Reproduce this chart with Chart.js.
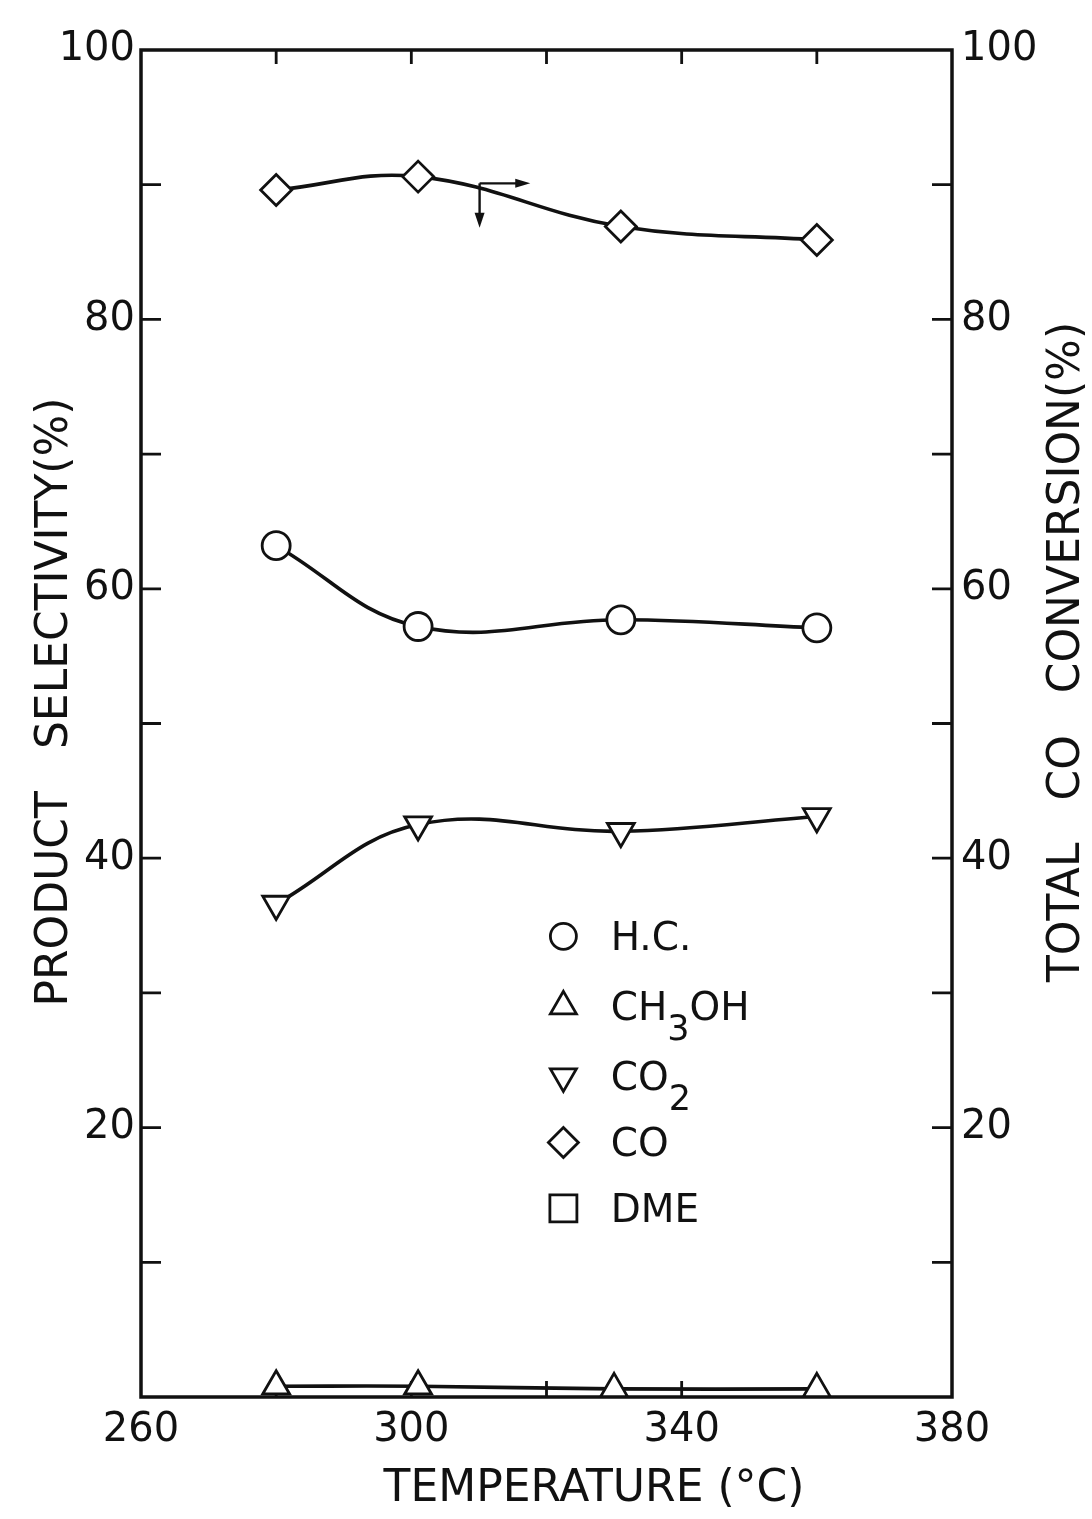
<!DOCTYPE html>
<html>
<head>
<meta charset="utf-8">
<script src="https://cdn.jsdelivr.net/npm/chart.js@4.4.0/dist/chart.umd.min.js"></script>
<style>
html,body{margin:0;padding:0;background:#fff;}
#wrap{width:1092px;height:1519px;position:relative;}
canvas{display:block;}
</style>
</head>
<body>
<div id="wrap"><canvas id="c" width="1092" height="1519"></canvas></div>
<script>
// ---- data ----
const temperatures      = [280, 301, 331, 360];   // °C
const ch3ohTemperatures = [280, 301, 330, 360];   // °C
const hcSelectivity     = [63.2, 57.2, 57.7, 57.1];
const ch3ohSelectivity  = [0.8, 0.8, 0.6, 0.6];
const co2Selectivity    = [36.6, 42.5, 42.0, 43.1];
const coConversion      = [89.6, 90.6, 86.9, 85.9];
const xTickLabels = [260, 300, 340, 380];
const yTickLabels = [20, 40, 60, 80, 100];
const legendItems = [
  {style:'circle',   main:'H.C.', sub:'',  tail:''},
  {style:'triangle', main:'CH',   sub:'3', tail:'OH'},
  {style:'triDown',  main:'CO',   sub:'2', tail:''},
  {style:'diamond',  main:'CO',   sub:'',  tail:''},
  {style:'square',   main:'DME',  sub:'',  tail:''}
];
const xTitle = 'TEMPERATURE (°C)';
const yLeftTitle = 'PRODUCT   SELECTIVITY(%)';
const yRightTitle = 'TOTAL   CO   CONVERSION(%)';

const INK = '#111111';
const FONT = '"DejaVu Sans", "Liberation Sans", Arial, sans-serif';

function pts(xs, ys){ return xs.map((x,i)=>({x:x, y:ys[i]})); }

function baseDs(label, data, style, rot, axis){
  return {
    label: label, data: data, yAxisID: axis || 'y',
    borderColor: INK, borderWidth: 3.6, tension: 0.4,
    pointStyle: style, pointRotation: rot || 0,
    pointRadius: style==='circle' ? 14 : 15.5,
    pointBorderWidth: 2.8, pointBorderColor: INK, pointBackgroundColor: '#fff',
    clip: false, fill: false
  };
}

function markerPath(ctx, style, x, y, r){
  ctx.beginPath();
  if (style==='circle'){ ctx.arc(x,y,r,0,Math.PI*2); }
  else if (style==='triangle'){
    ctx.moveTo(x, y-r); ctx.lineTo(x+r*0.866, y+r*0.5); ctx.lineTo(x-r*0.866, y+r*0.5); ctx.closePath();
  } else if (style==='triDown'){
    ctx.moveTo(x, y+r); ctx.lineTo(x+r*0.866, y-r*0.5); ctx.lineTo(x-r*0.866, y-r*0.5); ctx.closePath();
  } else if (style==='diamond'){
    ctx.moveTo(x, y-r); ctx.lineTo(x+r, y); ctx.lineTo(x, y+r); ctx.lineTo(x-r, y); ctx.closePath();
  } else {
    const h = r*0.75; ctx.rect(x-h, y-h, 2*h, 2*h);
  }
}

const framePlugin = {
  id: 'frame',
  beforeDatasetsDraw(chart){
    const {ctx, chartArea:a, scales} = chart;
    const x = scales.x, y = scales.y;
    ctx.save();
    ctx.strokeStyle = INK;
    ctx.lineWidth = 3.5;
    ctx.lineJoin = 'miter';
    ctx.strokeRect(a.left, a.top, a.right-a.left, a.bottom-a.top);
    ctx.lineWidth = 2.8;
    ctx.beginPath();
    x.ticks.forEach(t=>{
      if (t.value===x.min || t.value===x.max) return;
      const px = x.getPixelForValue(t.value);
      ctx.moveTo(px, a.bottom); ctx.lineTo(px, a.bottom-16);
      ctx.moveTo(px, a.top);    ctx.lineTo(px, a.top+14);
    });
    y.ticks.forEach(t=>{
      if (t.value===y.min || t.value===y.max) return;
      const py = y.getPixelForValue(t.value);
      ctx.moveTo(a.left, py);  ctx.lineTo(a.left+20, py);
      ctx.moveTo(a.right, py); ctx.lineTo(a.right-20, py);
    });
    ctx.stroke();
    ctx.restore();
  },
  afterDatasetsDraw(chart){
    const {ctx, scales} = chart;
    const x = scales.x, y = scales.y;
    ctx.save();
    ctx.strokeStyle = INK; ctx.fillStyle = INK; ctx.lineWidth = 2.4;
    // arrows from the CO curve
    const ox = x.getPixelForValue(310.1), oy = y.getPixelForValue(90.1);
    const dy = y.getPixelForValue(86.8);
    const rx = x.getPixelForValue(317.6);
    ctx.beginPath(); ctx.moveTo(ox, oy); ctx.lineTo(ox, dy-12); ctx.stroke();
    ctx.beginPath(); ctx.moveTo(ox, dy); ctx.lineTo(ox-5, dy-15); ctx.lineTo(ox+5, dy-15); ctx.closePath(); ctx.fill();
    ctx.beginPath(); ctx.moveTo(ox, oy); ctx.lineTo(rx-12, oy); ctx.stroke();
    ctx.beginPath(); ctx.moveTo(rx, oy); ctx.lineTo(rx-15, oy-4.5); ctx.lineTo(rx-15, oy+4.5); ctx.closePath(); ctx.fill();

    // legend
    const rows = [34.2, 29.0, 23.8, 18.9, 14.0];
    const mx = x.getPixelForValue(322.5);
    const tx = x.getPixelForValue(329.5);
    ctx.lineWidth = 2.8;
    legendItems.forEach((it, i)=>{
      const py = y.getPixelForValue(rows[i]);
      markerPath(ctx, it.style, mx, py, it.style==='circle' ? 13 : (it.style==='square'?18:15));
      ctx.fillStyle = '#fff'; ctx.fill(); ctx.stroke();
      ctx.fillStyle = INK;
      ctx.textBaseline = 'alphabetic'; ctx.textAlign = 'left';
      ctx.font = '39px ' + FONT;
      const base = py + 14;
      ctx.fillText(it.main, tx, base);
      let w = ctx.measureText(it.main).width;
      if (it.sub){
        ctx.font = '35px ' + FONT;
        ctx.fillText(it.sub, tx + w, base + 20);
        w += ctx.measureText(it.sub).width;
        ctx.font = '39px ' + FONT;
      }
      if (it.tail){ ctx.fillText(it.tail, tx + w, base); }
    });
    ctx.restore();
  },
  afterDraw(chart){
    const {ctx} = chart;
    ctx.save();
    ctx.fillStyle = INK;
    ctx.font = '44px ' + FONT;
    ctx.textAlign = 'center'; ctx.textBaseline = 'middle';
    ctx.fillText(xTitle, 594, 1490);
    ctx.save(); ctx.translate(56, 702); ctx.rotate(-Math.PI/2); ctx.fillText(yLeftTitle, 0, 0); ctx.restore();
    ctx.save(); ctx.translate(1068, 652); ctx.rotate(-Math.PI/2); ctx.fillText(yRightTitle, 0, 0); ctx.restore();
    ctx.restore();
  }
};

const tickFont = {family: FONT, size: 40};

new Chart(document.getElementById('c'), {
  type: 'line',
  data: {
    datasets: [
      baseDs('H.C.',  pts(temperatures, hcSelectivity), 'circle'),
      baseDs('CH3OH', pts(ch3ohTemperatures, ch3ohSelectivity), 'triangle'),
      baseDs('CO2',   pts(temperatures, co2Selectivity), 'triangle', 180),
      baseDs('CO',    pts(temperatures, coConversion), 'rectRot', 0, 'y2')
    ]
  },
  options: {
    responsive: false, animation: false, devicePixelRatio: 1,
    layout: {padding: {top: 50, left: 0, right: 0, bottom: 0}},
    plugins: {legend: {display: false}, tooltip: {enabled: false}},
    scales: {
      x: {
        type: 'linear', position: 'bottom', min: 260, max: 380,
        ticks: {stepSize: 20, color: INK, font: tickFont, padding: 10, maxRotation: 0,
                callback: v => xTickLabels.includes(v) ? String(v) : ''},
        grid: {display: true, drawOnChartArea: false, drawTicks: false},
        border: {display: false},
        afterFit: s => { s.height = 122; }
      },
      y: {
        type: 'linear', position: 'left', min: 0, max: 100,
        ticks: {stepSize: 10, color: INK, font: tickFont, padding: 6,
                callback: v => yTickLabels.includes(v) ? String(v) : ''},
        grid: {display: true, drawOnChartArea: false, drawTicks: false},
        border: {display: false},
        afterFit: s => { s.width = 141; }
      },
      y2: {
        type: 'linear', position: 'right', min: 0, max: 100,
        ticks: {stepSize: 10, color: INK, font: tickFont, padding: 9,
                callback: v => yTickLabels.includes(v) ? String(v) : ''},
        grid: {display: true, drawOnChartArea: false, drawTicks: false},
        border: {display: false},
        afterFit: s => { s.width = 140; }
      }
    }
  },
  plugins: [framePlugin]
});
</script>
</body>
</html>
